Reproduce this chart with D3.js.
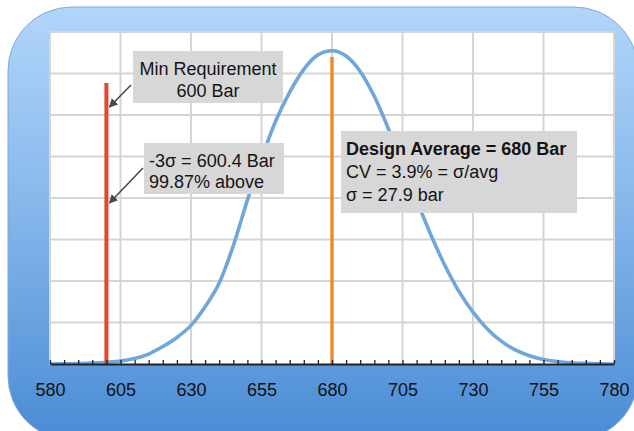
<!DOCTYPE html>
<html>
<head>
<meta charset="utf-8">
<script src="https://cdn.jsdelivr.net/npm/d3@7"></script>
<style>
  html, body { margin: 0; padding: 0; background: #fff; }
  svg { display: block; }
  text { font-family: "Liberation Sans", Arial, Helvetica, sans-serif; }
</style>
</head>
<body>
<svg id="chart" width="634" height="431"></svg>
<script>
// Pressure axis (bar) and the bell-curve heights sampled every 5 bar
const pressure = [580, 585, 590, 595, 600, 605, 610, 615, 620, 625, 630, 635, 640, 645, 650,
                  655, 660, 665, 670, 675, 680, 685, 690, 695, 700, 705, 710, 715, 720, 725,
                  730, 735, 740, 745, 750, 755, 760, 765, 770, 775, 780];
const density  = [0.0, 0.005, 0.01, 0.02, 0.04, 0.07, 0.13, 0.24, 0.42, 0.64, 0.93, 1.38, 1.95, 2.85, 3.95,
                  4.95, 5.85, 6.55, 7.1, 7.45, 7.55, 7.42, 7.05, 6.45, 5.67, 4.82, 3.95, 3.12, 2.38, 1.75,
                  1.25, 0.85, 0.55, 0.34, 0.2, 0.11, 0.06, 0.03, 0.015, 0.006, 0.0];

// Axis labels and grid
const xTickValues = [580, 605, 630, 655, 680, 705, 730, 755, 780];
const xMinorStep = 5;
const gridLevels = [1, 2, 3, 4, 5, 6, 7, 8];

// Reference lines
const minRequirement = 600;
const designAverage = 680;

// Annotation texts
const minNote = ["Min Requirement", "600 Bar"];
const sigmaNote = ["-3σ = 600.4 Bar", "99.87% above"];
const designNote = ["Design Average = 680 Bar", "CV = 3.9% = σ/avg", "σ = 27.9 bar"];

const plot = { left: 50, right: 614, top: 32, bottom: 364 };

const svg = d3.select("#chart");
const defs = svg.append("defs");

// Rounded blue panel behind the plot
const grad = defs.append("linearGradient")
  .attr("id", "panelGrad").attr("x1", 0).attr("y1", 0).attr("x2", 0).attr("y2", 1);
grad.append("stop").attr("offset", "0%").attr("stop-color", "#b2d5fa");
grad.append("stop").attr("offset", "45%").attr("stop-color", "#87b8ec");
grad.append("stop").attr("offset", "100%").attr("stop-color", "#4a8bd4");

svg.append("rect")
  .attr("x", 8).attr("y", 7).attr("width", 630).attr("height", 433)
  .attr("rx", 64).attr("ry", 64)
  .attr("fill", "url(#panelGrad)")
  .attr("stroke", "#7fa8d8").attr("stroke-width", 1);

// Arrow head marker
defs.append("marker")
  .attr("id", "arrowHead")
  .attr("viewBox", "0 0 10 10")
  .attr("refX", 9).attr("refY", 5)
  .attr("markerWidth", 9).attr("markerHeight", 9)
  .attr("markerUnits", "userSpaceOnUse")
  .attr("orient", "auto")
  .append("path").attr("d", "M0,0 L10,5 L0,10 z").attr("fill", "#4a4a4a");

const x = d3.scaleLinear().domain([580, 780]).range([plot.left, plot.right]);
const y = d3.scaleLinear().domain([0, 8]).range([plot.bottom, plot.top]);

// White plotting area
svg.append("rect")
  .attr("x", plot.left).attr("y", plot.top)
  .attr("width", plot.right - plot.left).attr("height", plot.bottom - plot.top)
  .attr("fill", "#fff");

// Grid
const grid = svg.append("g").attr("stroke", "#d5d5d5").attr("stroke-width", 2);
grid.selectAll("line.v").data(xTickValues).join("line")
  .attr("class", "v")
  .attr("x1", d => x(d)).attr("x2", d => x(d))
  .attr("y1", y(8)).attr("y2", y(0));
grid.selectAll("line.h").data(gridLevels).join("line")
  .attr("class", "h")
  .attr("x1", x(580)).attr("x2", x(780))
  .attr("y1", d => y(d)).attr("y2", d => y(d));

// Bell curve
const points = pressure.map((p, i) => [p, density[i]]);
svg.append("path")
  .datum(points)
  .attr("fill", "none")
  .attr("stroke", "#6fa7da")
  .attr("stroke-width", 3.6)
  .attr("stroke-linecap", "round")
  .attr("d", d3.line().x(d => x(d[0])).y(d => y(d[1])).curve(d3.curveMonotoneX));

// Vertical reference lines
svg.append("line")
  .attr("x1", x(minRequirement)).attr("x2", x(minRequirement))
  .attr("y1", y(6.77)).attr("y2", y(0))
  .attr("stroke", "#e8462c").attr("stroke-width", 4);
svg.append("line")
  .attr("x1", x(designAverage)).attr("x2", x(designAverage))
  .attr("y1", y(7.4)).attr("y2", y(0))
  .attr("stroke", "#ef8a2c").attr("stroke-width", 3.5);

// X axis with inward minor ticks
const minorTicks = d3.range(580, 780 + 0.001, xMinorStep);
svg.append("g")
  .attr("transform", `translate(0,${plot.bottom})`)
  .call(d3.axisBottom(x).tickValues(minorTicks).tickSizeInner(-4).tickSizeOuter(0).tickFormat(""))
  .call(g => g.select(".domain").attr("stroke", "#222").attr("stroke-width", 2))
  .call(g => g.selectAll(".tick line").attr("stroke", "#222").attr("stroke-width", 1.3));

svg.append("g")
  .attr("transform", `translate(0,${plot.bottom})`)
  .call(d3.axisBottom(x).tickValues(xTickValues).tickSize(0).tickPadding(19).tickFormat(d3.format("d")))
  .call(g => g.select(".domain").remove())
  .call(g => g.selectAll(".tick text")
    .attr("fill", "#111")
    .style("font-size", "18px")
    .style("font-family", '"Liberation Sans", Arial, sans-serif'));

// Annotation boxes
function noteBox(lines, box, opts) {
  const g = svg.append("g");
  g.append("rect")
    .attr("x", box.x).attr("y", box.y).attr("width", box.w).attr("height", box.h)
    .attr("fill", "#d7d7d7");
  lines.forEach((t, i) => {
    g.append("text")
      .attr("x", opts.anchor === "middle" ? box.x + box.w / 2 : box.x + opts.pad)
      .attr("y", box.y + opts.first + i * opts.lead)
      .attr("text-anchor", opts.anchor)
      .attr("fill", "#141414")
      .style("font-size", "18px")
      .style("font-weight", opts.boldFirst && i === 0 ? "bold" : "normal")
      .text(t);
  });
}

noteBox(minNote, { x: 133, y: 51, w: 150, h: 52 }, { anchor: "middle", first: 24, lead: 21.5 });
noteBox(sigmaNote, { x: 144, y: 143, w: 140, h: 51 }, { anchor: "start", pad: 5, first: 23.5, lead: 21.5 });
noteBox(designNote, { x: 341, y: 131, w: 236, h: 82 }, { anchor: "start", pad: 5, first: 23.5, lead: 23, boldFirst: true });

// Pointer arrows to the minimum-requirement line
const arrows = svg.append("g").attr("stroke", "#4a4a4a").attr("stroke-width", 1.6);
arrows.append("line")
  .attr("x1", 131).attr("y1", 85).attr("x2", x(minRequirement) + 3).attr("y2", 107)
  .attr("marker-end", "url(#arrowHead)");
arrows.append("line")
  .attr("x1", 143).attr("y1", 168).attr("x2", x(minRequirement) + 3).attr("y2", 203)
  .attr("marker-end", "url(#arrowHead)");
</script>
</body>
</html>
